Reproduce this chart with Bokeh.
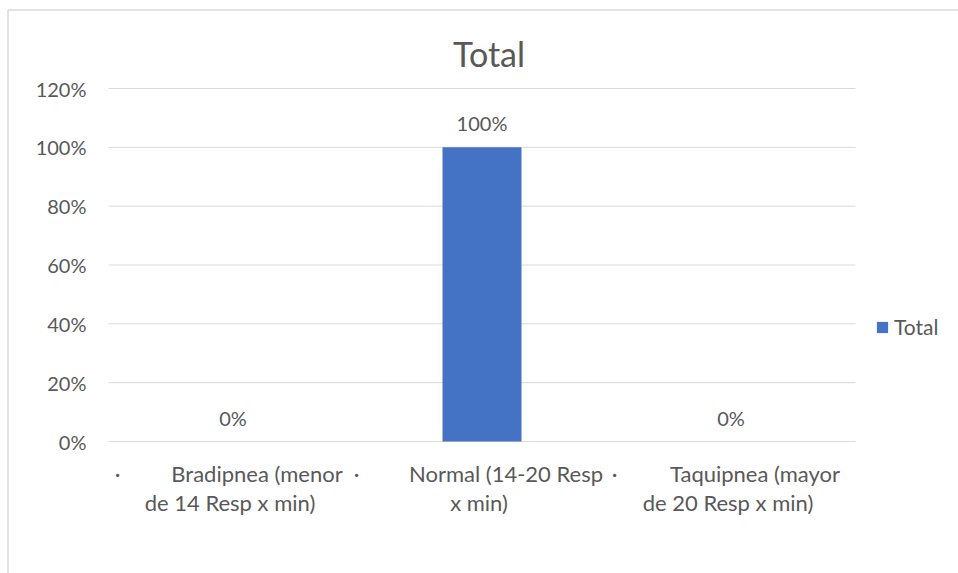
from bokeh.plotting import figure
from bokeh.models import Range1d, Legend, LegendItem, ColumnDataSource
from bokeh.core.properties import value
from bokeh.embed import file_html
from bokeh.resources import INLINE

title_text = "Total"
series_name = "Total"
categories = ["Bradipnea (menor de 14 Resp x min)", "Normal (14-20 Resp x min)",
              "Taquipnea (mayor de 20 Resp x min)"]
label_line1 = ["Bradipnea (menor", "Normal (14-20 Resp", "Taquipnea (mayor"]
label_line2 = ["de 14 Resp x min)", "x min)", "de 20 Resp x min)"]
values = [0.0, 1.0, 0.0]
value_labels = ["0%", "100%", "0%"]
y_ticks = [0.0, 0.2, 0.4, 0.6, 0.8, 1.0, 1.2]
y_tick_labels = ["0%", "20%", "40%", "60%", "80%", "100%", "120%"]

FONT = value("Lato")
TXT = "#595959"
GRID = "#d9d9d9"
BAR = "#4472C4"

W, H = 958, 573
# plot area within the figure (pixels)
PL, PR, PT, PB = 108, 855, 88, 441
n = len(categories)
cat_w = (PR - PL) / n
ppu = (PB - PT) / 1.2
x0 = -0.5 - PL / cat_w
x1 = -0.5 + (W - PL) / cat_w
y0 = -(H - PB) / ppu
y1 = 1.2 + PT / ppu

def px_x(px):
    return x0 + px / cat_w

def px_y(py):
    return y1 - py / ppu

p = figure(width=W, height=H, output_backend="svg", toolbar_location=None,
           x_range=Range1d(x0, x1), y_range=Range1d(y0, y1),
           min_border=0)
p.outline_line_color = None
p.xaxis.visible = False
p.yaxis.visible = False
p.xgrid.visible = False
p.ygrid.visible = False

xs = list(range(n))

# chart border (left and top)
p.segment(x0=[px_x(7.5), px_x(7.5)], y0=[y0, px_y(9.5)],
          x1=[px_x(7.5), x1], y1=[px_y(9.5), px_y(9.5)],
          line_color=GRID, line_width=1.5)

# gridlines
p.segment(x0=[-0.5] * len(y_ticks), x1=[n - 0.5] * len(y_ticks), y0=y_ticks, y1=y_ticks,
          line_color=GRID, line_width=1)

# y tick labels
p.text(x=[-0.5 - 22 / cat_w] * len(y_ticks), y=y_ticks, text=y_tick_labels,
       text_align="right", text_baseline="middle", text_font=FONT,
       text_font_size="20px", text_color=TXT)

src = ColumnDataSource(dict(x=xs, top=values, lab=value_labels, l1=label_line1, l2=label_line2))
bars = p.vbar(x="x", top="top", width=79 / cat_w, source=src, fill_color=BAR, line_color=None)

p.text(x="x", y="top", text="lab", source=src, y_offset=-24,
       text_align="center", text_baseline="middle",
       text_font=FONT, text_font_size="20px", text_color=TXT)

# category labels (wrapped)
p.text(x="x", y=-32 / ppu, text="l1", source=src, x_offset=24,
       text_align="center", text_baseline="middle",
       text_font=FONT, text_font_size="22px", text_color=TXT)
p.text(x="x", y=-61 / ppu, text="l2", source=src, x_offset=-3,
       text_align="center", text_baseline="middle",
       text_font=FONT, text_font_size="22px", text_color=TXT)
p.text(x=[px_x(117), px_x(356), px_x(614)], y=[-32 / ppu] * 3, text=["·"] * 3,
       text_align="center", text_baseline="middle",
       text_font=FONT, text_font_size="22px", text_color=TXT)

# title
p.text(x=[px_x(488.5)], y=[px_y(53)], text=[title_text], text_align="center",
       text_baseline="middle", text_font=FONT, text_font_size="34px", text_color=TXT)

legend = Legend(items=[LegendItem(label=series_name, renderers=[bars])],
                location=(875, H - 339), orientation="vertical",
                glyph_width=14, glyph_height=14, label_standoff=5,
                padding=0, margin=0, border_line_color=None,
                background_fill_alpha=0,
                label_text_font="Lato", label_text_font_size="21px",
                label_text_color=TXT, label_height=22)
p.add_layout(legend, "center")

open("out.html", "w").write(file_html(p, INLINE))
